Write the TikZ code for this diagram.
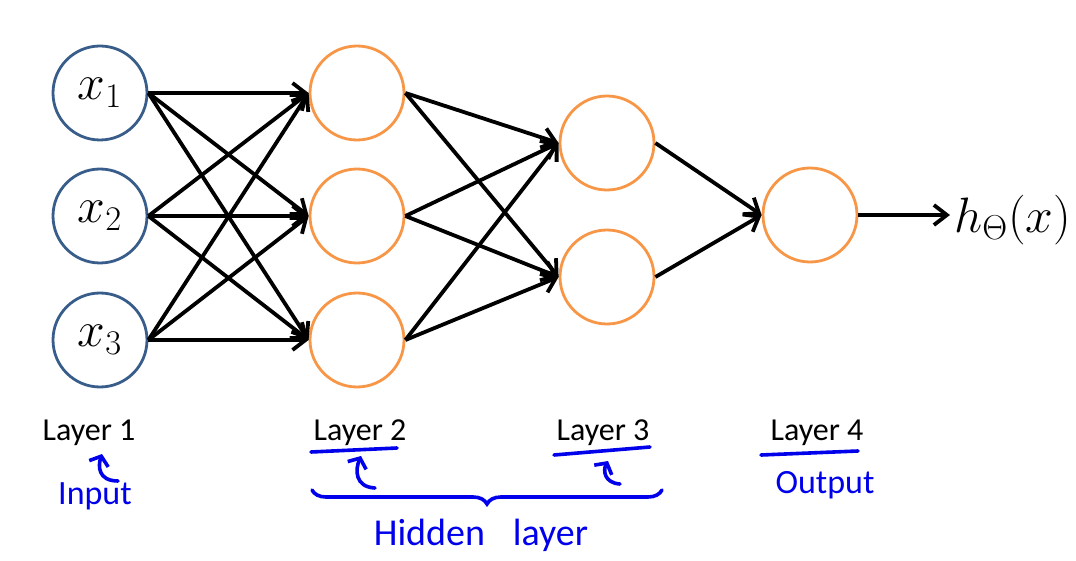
\documentclass[tikz,border=0pt]{standalone}
\usepackage{fontspec}
\setmainfont{Carlito}
\usetikzlibrary{arrows.meta,calc,decorations.pathreplacing}
\definecolor{InputClr}{RGB}{56,93,138}
\definecolor{UnitClr}{RGB}{247,150,70}
\definecolor{PenClr}{RGB}{0,0,235}

\begin{document}
\begin{tikzpicture}[x=0.5pt,y=-0.5pt,
  unit/.style={circle,draw=UnitClr,line width=1.4pt,minimum size=47pt,inner sep=0pt,
    font=\fontsize{24}{28}\selectfont},
  inunit/.style={unit,draw=InputClr},
  link/.style={line width=1.9pt,-{Straight Barb[length=6.5pt,width=10pt]}},
  layer/.style={font=\fontsize{16}{19}\selectfont},
  pen/.style={PenClr,line width=1.8pt,line cap=round},
  penarrow/.style={pen,-{Straight Barb[length=4pt,width=10pt]}},
  note/.style={PenClr,font=\fontsize{17}{20}\selectfont}]
\useasboundingbox (0,0) rectangle (1076,561);

\foreach \i/\y in {1/93,2/216,3/340}
  \node[inunit] (x\i) at (100,\y) {$x_\i$};
\foreach \i/\y in {1/93,2/216,3/340}
  \node[unit] (a\i) at (357,\y) {};
\foreach \i/\y in {1/143,2/277}
  \node[unit] (b\i) at (607,\y) {};
\node[unit] (c) at (810,215) {};
\node[anchor=west,inner sep=2pt,font=\fontsize{27}{32}\selectfont] (h) at (950,220) {$h_\Theta(x)$};

\foreach \i in {1,2,3}
  \foreach \j in {1,2,3}
    \draw[link] (x\i.east) -- (a\j.west);
\foreach \i in {1,2,3}
  \foreach \j in {1,2}
    \draw[link] (a\i.east) -- (b\j.west);
\foreach \j in {1,2}
  \draw[link] (b\j.east) -- (c.west);
\draw[link] (c.east) -- (c.east -| h.west);

\node[layer] (l1) at (89,433) {Layer 1};
\node[layer] (l2) at (360,433) {Layer 2};
\node[layer] (l3) at (603,433) {Layer 3};
\node[layer] (l4) at (817,433) {Layer 4};

\draw[pen] (311,452) -- (397,448);
\draw[pen] (554,455) -- (650,447);
\draw[pen] (761,455) -- (858,451);

\draw[penarrow] (118,481) .. controls (98,481) and (98,466) .. (102,454);
\draw[penarrow] (375,488) .. controls (355,487) and (355,470) .. (361,456);
\draw[penarrow] (620,484) .. controls (604,483) and (603,470) .. (608,461);

\draw[pen,decorate,decoration={brace,amplitude=7pt}] (662,490) -- (312,490);

\node[note] (inp) at (95,496) {Input};
\node[note,font=\fontsize{19}{22}\selectfont] (hid) at (481,535) {Hidden\hspace{14pt}layer};
\node[note] (out) at (825,485) {Output};
\end{tikzpicture}
\end{document}
